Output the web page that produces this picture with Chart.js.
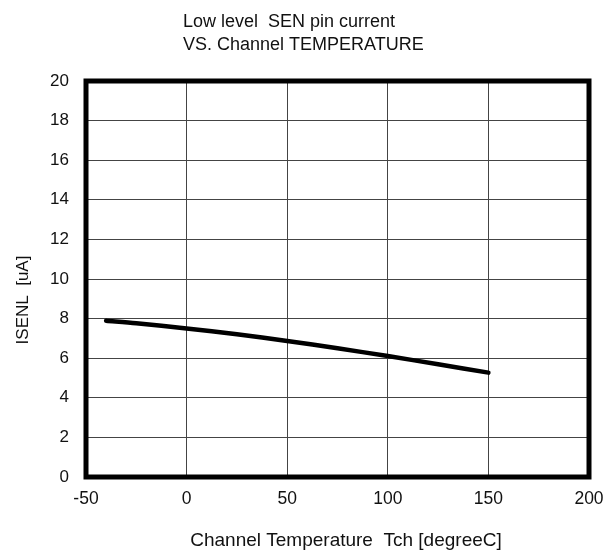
<!DOCTYPE html>
<html>
<head>
<meta charset="utf-8">
<script src="https://cdn.jsdelivr.net/npm/chart.js@4.4.1/dist/chart.umd.min.js"></script>
<style>
  html, body { margin: 0; padding: 0; background: #fff; }
  #wrap { width: 607px; height: 554px; }
</style>
</head>
<body>
<div id="wrap"><canvas id="c" width="607" height="554"></canvas></div>
<script>
// ----------------------------------------------------
// Données
// ----------------------------------------------------
const tempC = [-40, -25, 0, 25, 50, 75, 100, 125, 150];
const isenl = [7.89, 7.76, 7.5, 7.21, 6.87, 6.5, 6.11, 5.69, 5.27];

const xTicks = [-50, 0, 50, 100, 150, 200];
const yTicks = [0, 2, 4, 6, 8, 10, 12, 14, 16, 18, 20];

const titleLines = ["Low level  SEN pin current", "VS. Channel TEMPERATURE"];
const xTitle = "Channel Temperature  Tch [degreeC]";
const yTitle = "ISENL  [uA]";

const FONT = "'Liberation Sans', Arial, sans-serif";

// ----------------------------------------------------
// Textes + cadre épais
// ----------------------------------------------------
const decorations = {
  id: "decorations",
  afterDraw(chart) {
    const ctx = chart.ctx;
    const a = chart.chartArea;
    ctx.save();

    // cadre
    ctx.lineWidth = 5;
    ctx.strokeStyle = "#000";
    ctx.lineJoin = "miter";
    ctx.strokeRect(a.left, a.top, a.right - a.left, a.bottom - a.top);

    ctx.fillStyle = "#111";
    ctx.textBaseline = "middle";

    // titre
    ctx.font = "18px " + FONT;
    ctx.textAlign = "left";
    ctx.fillText(titleLines[0], 183, 22);
    ctx.fillText(titleLines[1], 183, 45);

    // titre axe X
    ctx.font = "19px " + FONT;
    ctx.textAlign = "center";
    ctx.fillText(xTitle, 346, 541);

    // titre axe Y
    ctx.font = "17px " + FONT;
    ctx.translate(23, 300);
    ctx.rotate(-Math.PI / 2);
    ctx.fillText(yTitle, 0, 0);

    ctx.restore();
  }
};

new Chart(document.getElementById("c"), {
  type: "line",
  data: {
    datasets: [{
      data: tempC.map((t, i) => ({ x: t, y: isenl[i] })),
      borderColor: "#000",
      borderWidth: 4.5,
      borderCapStyle: "round",
      pointRadius: 0,
      tension: 0.3,
      fill: false
    }]
  },
  options: {
    responsive: false,
    animation: false,
    layout: { padding: { top: 81, right: 18, left: 0, bottom: 0 } },
    plugins: {
      legend: { display: false },
      tooltip: { enabled: false }
    },
    scales: {
      x: {
        type: "linear",
        min: -50,
        max: 200,
        afterBuildTicks: s => { s.ticks = xTicks.map(v => ({ value: v })); },
        afterFit: s => { s.height = 77; s.paddingLeft = 0; s.paddingRight = 0; },
        grid: { color: "#444", lineWidth: 1, drawTicks: false },
        border: { display: false },
        ticks: { padding: 12, color: "#111", font: { size: 17.5, family: FONT } }
      },
      y: {
        type: "linear",
        min: 0,
        max: 20,
        afterBuildTicks: s => { s.ticks = yTicks.map(v => ({ value: v })); },
        afterFit: s => { s.width = 86; s.paddingTop = 0; s.paddingBottom = 0; },
        grid: { color: "#444", lineWidth: 1, drawTicks: false },
        border: { display: false },
        ticks: { padding: 17, color: "#111", font: { size: 17, family: FONT } }
      }
    }
  },
  plugins: [decorations]
});
</script>
</body>
</html>
